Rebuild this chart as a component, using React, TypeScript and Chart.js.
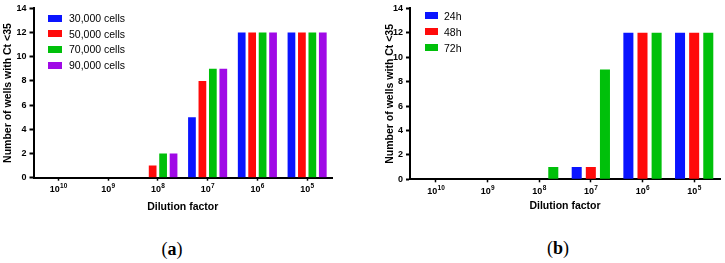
import { useEffect, useRef } from "react";
import { Chart, registerables } from "chart.js";

Chart.register(...registerables);

// Dilution factors on the x axis, written as base^exponent
const dilutionLabels = ["10^10", "10^9", "10^8", "10^7", "10^6", "10^5"];

// Panel (a): cell count per well
const cellSeriesNames = ["30,000 cells", "50,000 cells", "70,000 cells", "90,000 cells"];
const cells30k = [0, 0, 0, 5, 12, 12];
const cells50k = [0, 0, 1, 8, 12, 12];
const cells70k = [0, 0, 2, 9, 12, 12];
const cells90k = [0, 0, 2, 9, 12, 12];
const cellColors = ["#0a14ff", "#ff0a0a", "#00c00a", "#a00ae6"];

// Panel (b): incubation time
const timeSeriesNames = ["24h", "48h", "72h"];
const time24h = [0, 0, 0, 1, 12, 12];
const time48h = [0, 0, 0, 1, 12, 12];
const time72h = [0, 0, 1, 9, 12, 12];
const timeColors = ["#0a14ff", "#ff0a0a", "#00c00a"];

const yMin = 0;
const yMax = 14;
const yStep = 2;

const yTitle = "Number of wells with Ct <35";
const xTitle = "Dilution factor";

const SANS = "'Liberation Sans', Arial, Helvetica, sans-serif";

type Layout = {
  canvasLeft: number;
  width: number;
  height: number;
  padTop: number;
  padRight: number;
  yAxisWidth: number;
  xAxisHeight: number;
  yTitlePad: number;
  xTitlePad: number;
  categoryPercentage: number;
  barPercentage: number;
};

// Draws "10" with a raised exponent under each category tick
const powerLabelPlugin = {
  id: "powerLabels",
  afterDraw(chart: any) {
    const xs = chart.scales.x;
    const ctx = chart.ctx;
    const labels: string[] = chart.data.labels;
    const baseY = chart.chartArea.bottom + 14.5;
    ctx.save();
    ctx.fillStyle = "#000";
    ctx.textBaseline = "alphabetic";
    ctx.textAlign = "left";
    labels.forEach((lab, i) => {
      const [base, exp] = lab.split("^");
      const x = xs.getPixelForValue(i);
      ctx.font = `bold 9px ${SANS}`;
      const wb = ctx.measureText(base).width;
      ctx.font = `bold 6.5px ${SANS}`;
      const we = ctx.measureText(exp).width;
      const start = x - (wb + we) / 2;
      ctx.font = `bold 9px ${SANS}`;
      ctx.fillText(base, start, baseY);
      ctx.font = `bold 6.5px ${SANS}`;
      ctx.fillText(exp, start + wb + 0.3, baseY - 4.2);
    });
    ctx.restore();
  },
};

function BarPanel(props: {
  names: string[];
  series: number[][];
  colors: string[];
  layout: Layout;
}) {
  const ref = useRef<HTMLCanvasElement | null>(null);
  const { names, series, colors, layout } = props;

  useEffect(() => {
    if (!ref.current) return;
    const chart = new Chart(ref.current, {
      type: "bar",
      data: {
        labels: dilutionLabels,
        datasets: series.map((vals, i) => ({
          label: names[i],
          data: vals,
          backgroundColor: colors[i],
          borderWidth: 0,
          categoryPercentage: layout.categoryPercentage,
          barPercentage: layout.barPercentage,
        })),
      },
      options: {
        responsive: false,
        animation: false,
        devicePixelRatio: 1,
        layout: {
          padding: { left: 0, top: layout.padTop, right: layout.padRight, bottom: 0 },
        },
        plugins: {
          legend: { display: false },
          tooltip: { enabled: false },
        },
        scales: {
          x: {
            type: "category",
            offset: true,
            grid: {
              offset: false,
              drawOnChartArea: false,
              drawTicks: true,
              tickLength: 3,
              tickWidth: 1.5,
              tickColor: "#000",
            },
            border: { display: true, color: "#000", width: 2 },
            ticks: { callback: () => "", padding: 0 },
            title: {
              display: true,
              text: xTitle,
              color: "#000",
              font: { family: SANS, size: 10.5, weight: "bold" },
              padding: { top: 0, bottom: layout.xTitlePad },
            },
            afterFit(scale: any) {
              scale.height = layout.xAxisHeight;
            },
          },
          y: {
            min: yMin,
            max: yMax,
            ticks: {
              stepSize: yStep,
              color: "#000",
              padding: 3,
              font: { family: SANS, size: 9, weight: "bold" },
            },
            grid: {
              drawOnChartArea: false,
              drawTicks: true,
              tickLength: 4,
              tickWidth: 2,
              tickColor: "#000",
            },
            border: { display: true, color: "#000", width: 2 },
            title: {
              display: true,
              text: yTitle,
              color: "#000",
              font: { family: SANS, size: 10.5, weight: "bold" },
              padding: { top: layout.yTitlePad, bottom: 0 },
            },
            afterFit(scale: any) {
              scale.width = layout.yAxisWidth;
            },
          },
        },
      },
      plugins: [powerLabelPlugin],
    } as any);
    return () => chart.destroy();
  }, []);

  return (
    <canvas
      ref={ref}
      width={layout.width}
      height={layout.height}
      style={{
        position: "absolute",
        left: layout.canvasLeft,
        top: 0,
        width: layout.width,
        height: layout.height,
      }}
    />
  );
}

function Legend(props: {
  names: string[];
  colors: string[];
  left: number;
  top: number;
  rowHeight: number;
  boxW: number;
  boxH: number;
  gap: number;
}) {
  const { names, colors, left, top, rowHeight, boxW, boxH, gap } = props;
  return (
    <div style={{ position: "absolute", left, top }}>
      {names.map((n, i) => (
        <div
          key={n}
          style={{
            display: "flex",
            alignItems: "center",
            height: rowHeight,
            fontFamily: SANS,
            fontSize: 10.5,
            color: "#000",
            whiteSpace: "nowrap",
          }}
        >
          <span
            style={{
              display: "inline-block",
              width: boxW,
              height: boxH,
              background: colors[i],
              marginRight: gap,
            }}
          />
          <span>{n}</span>
        </div>
      ))}
    </div>
  );
}

function Caption(props: { letter: string; centerX: number; centerY: number }) {
  return (
    <div
      style={{
        position: "absolute",
        left: props.centerX - 30,
        top: props.centerY - 10,
        width: 60,
        height: 20,
        lineHeight: "20px",
        textAlign: "center",
        fontFamily: "'Liberation Serif', 'Times New Roman', serif",
        fontSize: 18,
        color: "#000",
      }}
    >
      (<b>{props.letter}</b>)
    </div>
  );
}

const layoutA: Layout = {
  canvasLeft: 0,
  width: 345,
  height: 218,
  padTop: 8.3,
  padRight: 13,
  yAxisWidth: 33.5,
  xAxisHeight: 40.3,
  yTitlePad: 1.7,
  xTitlePad: 4.7,
  categoryPercentage: 0.84,
  barPercentage: 0.74,
};

const layoutB: Layout = {
  canvasLeft: 375,
  width: 350,
  height: 218,
  padTop: 7.3,
  padRight: 5,
  yAxisWidth: 35,
  xAxisHeight: 38.7,
  yTitlePad: 8.7,
  xTitlePad: 5.2,
  categoryPercentage: 0.82,
  barPercentage: 0.71,
};

export default function App() {
  return (
    <div
      style={{
        position: "absolute",
        left: 0,
        top: 0,
        width: 725,
        height: 263,
        background: "#fff",
        overflow: "hidden",
      }}
    >
      <BarPanel
        names={cellSeriesNames}
        series={[cells30k, cells50k, cells70k, cells90k]}
        colors={cellColors}
        layout={layoutA}
      />
      <BarPanel
        names={timeSeriesNames}
        series={[time24h, time48h, time72h]}
        colors={timeColors}
        layout={layoutB}
      />
      <Legend
        names={cellSeriesNames}
        colors={cellColors}
        left={48}
        top={10.2}
        rowHeight={15.7}
        boxW={14}
        boxH={7}
        gap={7}
      />
      <Legend
        names={timeSeriesNames}
        colors={timeColors}
        left={425}
        top={7.7}
        rowHeight={16}
        boxW={13}
        boxH={6.5}
        gap={6}
      />
      <Caption letter="a" centerX={172} centerY={249} />
      <Caption letter="b" centerX={558} centerY={248} />
    </div>
  );
}
